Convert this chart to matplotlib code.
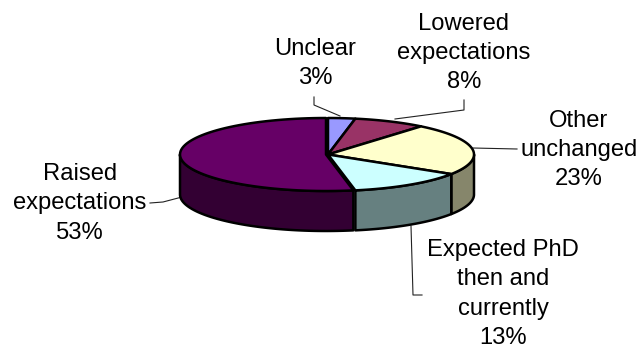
"""
Fake 3D pie chart of changes in expectations, drawn as polygons on a pixel sized axes.
"""

import matplotlib
matplotlib.use('Agg')
import matplotlib.pyplot as plt
import numpy as np

plt.rcParams['font.family'] = ['Liberation Sans', 'DejaVu Sans']

labels = ['Unclear', 'Lowered\nexpectations', 'Other\nunchanged',
          'Expected PhD\nthen and\ncurrently', 'Raised\nexpectations']
values = [3, 8, 23, 13, 53]
top_colors = ['#9999ff', '#993366', '#ffffcc', '#ccffff', '#660066']
side_colors = ['#6b6bb3', '#6b2447', '#86866b', '#668080', '#330033']

# centres of the text blocks, top down
label_pos = [(315, 63.5), (464, 53), (579, 150), (503, 294), (80, 203.5)]
leaders = [
    [(314, 97), (314, 105), (340, 116)],
    [(464, 100), (464, 110), (395, 119)],
    [(517, 149), (473, 148)],
    [(411, 226), (413, 295), (422, 295)],
    [(150, 203), (163, 202), (182, 197)],
]

RX, RY, DEPTH = 146, 36.5, 40
CX, CY = 328, 154.5
RAISED_SHIFT = -2


def rim(start, end, cx, cy):
    """Points on the top ellipse, angles clockwise from 12 o'clock in degrees."""
    t = np.radians(np.linspace(start, end, 80))
    return cx + RX * np.sin(t), cy - RY * np.cos(t)


fig = plt.figure(figsize=(6.39, 3.49), dpi=100)
ax = fig.add_axes([0, 0, 1, 1])
ax.set_xlim(0, 639)
ax.set_ylim(349, 0)
ax.axis('off')

edges = np.cumsum([0] + values) * 3.6
slices = []
for i in range(len(values)):
    cx = CX + (RAISED_SHIFT if i == len(values) - 1 else 0)
    slices.append((edges[i], edges[i + 1], cx, CY, top_colors[i], side_colors[i]))

# side walls first, only the part facing the viewer
for start, end, cx, cy, top, side in slices:
    a, b = max(start, 90), min(end, 270)
    if a >= b:
        continue
    x, y = rim(a, b, cx, cy)
    ax.fill(np.r_[x, x[::-1]], np.r_[y, y[::-1] + DEPTH], facecolor=side,
            edgecolor='black', linewidth=1.8, joinstyle='round', zorder=2)

# top faces
for start, end, cx, cy, top, side in slices:
    x, y = rim(start, end, cx, cy)
    ax.fill(np.r_[cx, x], np.r_[cy, y], facecolor=top,
            edgecolor='black', linewidth=1.8, joinstyle='round', zorder=3)

for pts in leaders:
    xs, ys = zip(*pts)
    ax.plot(xs, ys, color='#222222', linewidth=0.8, zorder=1)

for text, pct, (x, y) in zip(labels, values, label_pos):
    ax.text(x, y, f'{text}\n{pct}%', ha='center', va='center', fontsize=17.1,
            color='black', linespacing=1.43, zorder=4)

fig.savefig('out.png', dpi=100)
